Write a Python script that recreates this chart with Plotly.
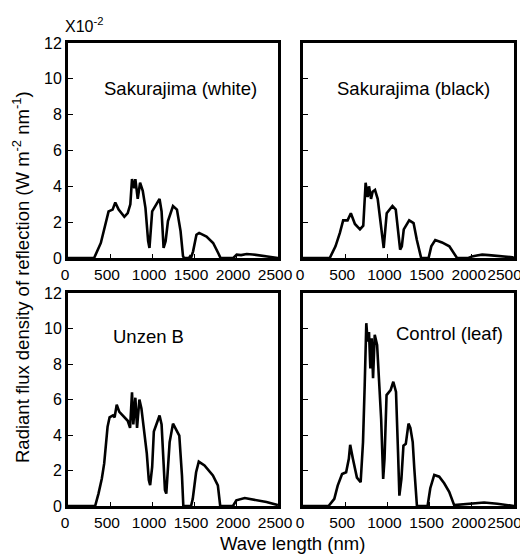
import plotly.graph_objects as go

# the page body adds an 8px margin, so the figure is drawn 8px in from the window edge
OFF = 8
WIN_W, WIN_H = 528, 554
W, H = WIN_W - OFF, WIN_H - OFF

# ---- data (wavelength nm, radiant flux density x10^-2 W m^-2 nm^-1) ----
white_nm = [0, 311, 391, 431, 483, 531, 563, 603, 671, 711, 742, 762, 790, 802, 830, 858, 890, 922,
            954, 970, 1002, 1090, 1114, 1138, 1162, 1190, 1250, 1297, 1340, 1369, 1381, 1440, 1452,
            1464, 1489, 1529, 1561, 1649, 1728, 1788, 1816, 1968, 2008, 2060, 2128, 2200, 2287, 2400, 2467, 2500]
white_val = [0, 0, 0.84, 1.6, 2.6, 2.7, 3.1, 2.7, 2.3, 2.5, 3.0, 4.4, 3.9, 4.4, 3.3, 4.2, 3.75, 2.8,
             0.94, 0.56, 2.6, 3.3, 2.6, 0.56, 0.94, 2.06, 2.9, 2.7, 1.5, 0.1, 0, 0, 0.08,
             0, 0.37, 1.3, 1.4, 1.2, 0.84, 0.28, 0, 0, 0.19, 0.16, 0.22, 0.2, 0.15, 0.08, 0.04, 0]

black_nm = [0, 317, 385, 437, 476, 528, 567, 615, 675, 714, 742, 766, 782, 806, 825, 853, 885, 925,
            956, 992, 1060, 1099, 1131, 1151, 1171, 1194, 1258, 1310, 1349, 1389, 1400, 1488, 1520,
            1567, 1647, 1734, 1798, 1825, 1960, 2004, 2060, 2123, 2200, 2282, 2400, 2480, 2500]
black_val = [0, 0, 0.65, 1.4, 2.1, 2.1, 2.5, 1.9, 1.6, 1.8, 4.2, 3.4, 4.0, 3.3, 3.7, 3.8, 3.3, 1.8,
             0.56, 2.5, 2.9, 2.7, 1.4, 0.47, 0.65, 1.6, 2.1, 1.95, 1.0, 0.1, 0, 0, 0.65,
             1.0, 0.87, 0.65, 0.19, 0, 0, 0.09, 0.14, 0.19, 0.16, 0.13, 0.08, 0.04, 0]

unzen_nm = [0, 323, 363, 403, 431, 443, 471, 495, 535, 555, 580, 611, 671, 711, 739, 762, 778, 802,
            822, 850, 874, 898, 938, 962, 978, 1002, 1022, 1090, 1114, 1138, 1154, 1170, 1194, 1210,
            1250, 1290, 1325, 1357, 1373, 1465, 1485, 1525, 1557, 1625, 1725, 1784, 1812, 1964,
            2004, 2104, 2204, 2363, 2500]
unzen_val = [0, 0, 0.7, 1.55, 2.4, 3.05, 4.46, 5.0, 5.1, 5.0, 5.7, 5.3, 5.0, 4.8, 4.4, 6.4, 4.6, 6.1,
             4.4, 6.0, 5.5, 4.6, 2.96, 1.46, 1.18, 2.2, 4.2, 5.1, 4.6, 2.4, 0.9, 0.7, 2.8, 3.6,
             4.64, 4.3, 3.96, 1.7, 0, 0, 0.4, 1.9, 2.5, 2.28, 1.72, 1.16, 0, 0,
             0.32, 0.45, 0.37, 0.22, 0.05]

leaf_nm = [0, 303, 371, 411, 463, 511, 543, 559, 591, 639, 683, 711, 731, 750, 766, 782, 798, 814,
           830, 850, 878, 902, 926, 950, 966, 990, 1038, 1070, 1102, 1126, 1142, 1166, 1190, 1218,
           1250, 1272, 1300, 1319, 1350, 1476, 1508, 1555, 1614, 1673, 1732, 1791, 1988, 2146,
           2303, 2480, 2500]
leaf_val = [0, 0, 0.4, 1.15, 1.8, 1.9, 2.66, 3.45, 2.66, 1.6, 1.34, 3.6, 6.8, 10.3, 9.26, 9.8, 7.75, 9.45,
            7.2, 9.64, 9.07, 7.2, 4.9, 1.53, 2.66, 6.25, 6.53, 7.0, 6.43, 3.04, 0.58, 1.53, 3.4, 3.5,
            4.64, 4.4, 3.6, 2.1, 0, 0, 1.0, 1.75, 1.65, 1.28, 0.8, 0.05, 0.13, 0.2,
            0.13, 0.02, 0]

panel_names = ["Sakurajima (white)", "Sakurajima (black)", "Unzen B", "Control (leaf)"]
x_ticks = [0, 500, 1000, 1500, 2000, 2500]
y_ticks = [0, 2, 4, 6, 8, 10, 12]

FONT = "Liberation Sans, Arial, Helvetica, sans-serif"
NBSP = "\u00a0"

def px_x(p):
    return (p - OFF) / W

def px_y(p):
    return 1 - (p - OFF) / H

# panel pixel boxes (window pixels)
left = (68, 278)
right = (303, 514)
top = (43, 258)
bottom = (293, 506)

fig = go.Figure()
series = [(white_nm, white_val), (black_nm, black_val), (unzen_nm, unzen_val), (leaf_nm, leaf_val)]
for i, (xs, ys) in enumerate(series):
    fig.add_trace(go.Scatter(x=xs, y=ys, mode="lines",
                             line=dict(color="black", width=2.6),
                             xaxis="x" if i == 0 else f"x{i+1}",
                             yaxis="y" if i == 0 else f"y{i+1}",
                             showlegend=False, hoverinfo="skip"))

boxes = [(left, top), (right, top), (left, bottom), (right, bottom)]
layout = dict(width=W, height=H, margin=dict(l=0, r=0, t=0, b=0, autoexpand=False),
              paper_bgcolor="white", plot_bgcolor="white",
              font=dict(family=FONT, color="black", size=14), showlegend=False)

for i, ((x0, x1), (y0, y1)) in enumerate(boxes):
    xn = "xaxis" if i == 0 else f"xaxis{i+1}"
    yn = "yaxis" if i == 0 else f"yaxis{i+1}"
    yid = "y" if i == 0 else f"y{i+1}"
    xid = "x" if i == 0 else f"x{i+1}"
    xtext = [str(v) for v in x_ticks]
    if i % 2 == 1:
        # keep the last label of the right-hand panels inside the visible window
        xtext[-1] = xtext[-1] + NBSP * 3
    layout[xn] = dict(domain=[px_x(x0), px_x(x1)], range=[0, 2500], anchor=yid,
                      tickvals=x_ticks, ticktext=xtext, tickangle=0,
                      ticks="inside", ticklen=4, tickwidth=1.2, tickcolor="black",
                      showline=True, linewidth=3, linecolor="black", mirror=True,
                      showgrid=False, zeroline=False, automargin=False,
                      ticklabeloverflow="allow", ticklabelshift=-3,
                      tickfont=dict(size=15.5, family=FONT, color="black"))
    layout[yn] = dict(domain=[px_y(y1), px_y(y0)], range=[0, 12], anchor=xid,
                      tickvals=y_ticks, ticktext=[str(v) for v in y_ticks],
                      showticklabels=(i % 2 == 0),
                      ticks="inside", ticklen=5, tickwidth=1.2, tickcolor="black",
                      showline=True, linewidth=3, linecolor="black", mirror=True,
                      showgrid=False, zeroline=False, automargin=False,
                      ticklabeloverflow="allow",
                      tickfont=dict(size=16, family=FONT, color="black"))

fig.update_layout(**layout)

label_pos = [(180, 88), (413, 88), (148, 336), (449, 333)]
for name, (lx, ly) in zip(panel_names, label_pos):
    fig.add_annotation(text=name, xref="paper", yref="paper", x=px_x(lx), y=px_y(ly),
                       xanchor="center", yanchor="middle", showarrow=False,
                       font=dict(size=18.5, family=FONT, color="black"))

fig.add_annotation(text="X10<sup>-2</sup>", xref="paper", yref="paper", x=px_x(63), y=px_y(25),
                   xanchor="left", yanchor="middle", showarrow=False,
                   font=dict(size=16, family=FONT, color="black"))

fig.add_annotation(text="Radiant flux density of reflection (W m<sup>-2</sup> nm<sup>-1</sup>)",
                   xref="paper", yref="paper", x=px_x(21), y=px_y(277), textangle=-90,
                   xanchor="center", yanchor="middle", showarrow=False,
                   font=dict(size=18.5, family=FONT, color="black"))

fig.add_annotation(text="Wave length (nm)", xref="paper", yref="paper", x=px_x(292), y=px_y(543),
                   xanchor="center", yanchor="middle", showarrow=False,
                   font=dict(size=18.5, family=FONT, color="black"))

fig.write_html("out.html")
